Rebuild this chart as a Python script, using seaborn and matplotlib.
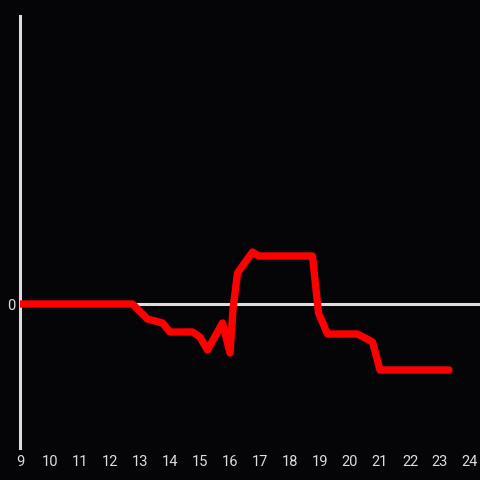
import matplotlib
matplotlib.use("Agg")
import matplotlib.pyplot as plt
import seaborn as sns
import pandas as pd

hours = [9.0, 12.75, 13.25, 13.75, 14.0, 14.75, 15.0, 15.25, 15.75, 16.0,
         16.1, 16.25, 16.75, 16.95, 18.75, 18.95, 19.25, 20.25, 20.75, 21.0, 23.3]
values = [0, 0, -15, -19, -28, -28, -33, -46, -19, -49,
          -5, 31, 52, 48, 48, -9, -30, -30, -38, -66, -66]
xticks = list(range(9, 25))

df = pd.DataFrame({"hour": hours, "value": values})

sns.set_style("dark")
bg = "#050407"
fig = plt.figure(figsize=(4.8, 4.8), dpi=100, facecolor=bg)
ax = fig.add_axes([20/480, 32/480, 460/480, 432/480])
ax.set_facecolor(bg)

ax.axhline(0, color="#dddddd", lw=2.2, zorder=1)
sns.lineplot(data=df, x="hour", y="value", ax=ax, color="#ff0000", lw=5.3,
             zorder=3, estimator=None, sort=False)

ax.set_xlim(9, 24.333)
ax.set_ylim(-144, 288)
ax.set_xticks(xticks)
ax.set_xticklabels([str(t) for t in xticks])
ax.set_yticks([0])
ax.set_yticklabels(["0"])
ax.grid(False)
for s in ["top", "right", "bottom"]:
    ax.spines[s].set_visible(False)
ax.spines["left"].set_visible(True)
ax.spines["left"].set_color("#dddddd")
ax.spines["left"].set_linewidth(2.2)
ax.tick_params(axis="both", length=0, colors="#dddddd", labelsize=10.5)
ax.tick_params(axis="x", pad=5)
ax.tick_params(axis="y", pad=3)
for lab in ax.get_xticklabels() + ax.get_yticklabels():
    lab.set_fontfamily("Roboto")
ax.set_xlabel("")
ax.set_ylabel("")

fig.savefig("out.png", dpi=100, facecolor=bg)
